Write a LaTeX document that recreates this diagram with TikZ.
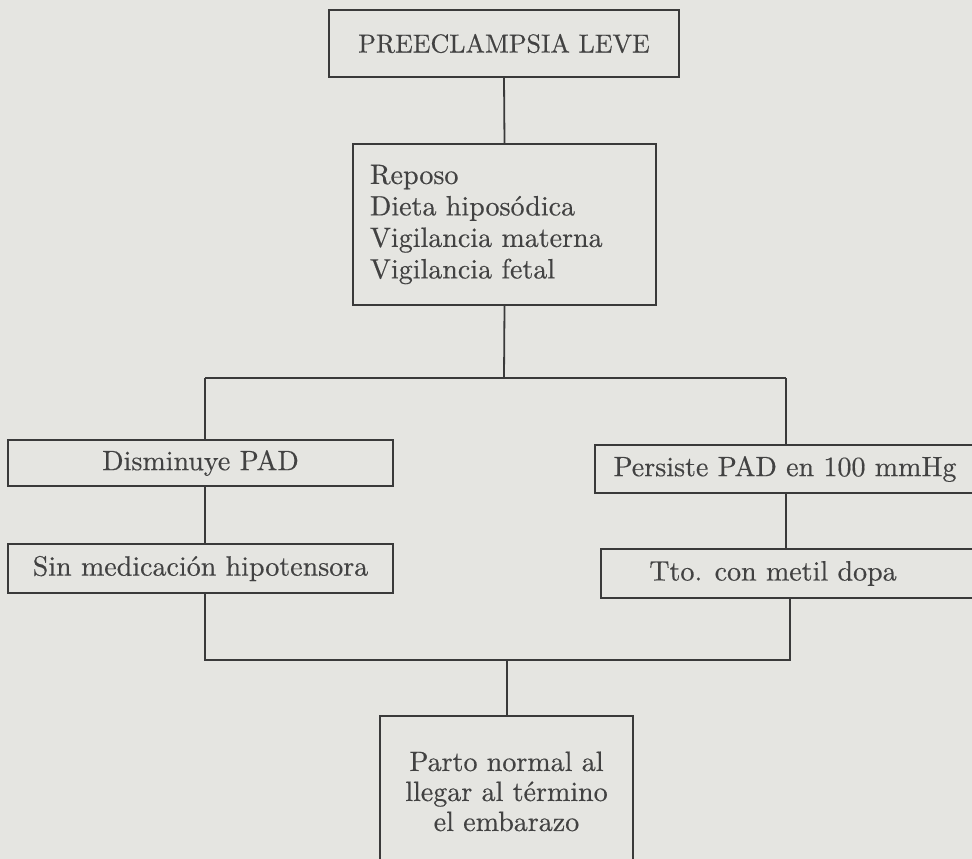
\documentclass[tikz,border=0pt]{standalone}
\usepackage{fontspec}
\setmainfont{lmroman10-regular}[Extension=.otf, FakeBold=0.4]
\definecolor{paper}{RGB}{229,229,225}
\definecolor{ink}{RGB}{58,58,58}
\definecolor{txt}{RGB}{66,66,66}
\tikzset{
  box/.style={draw=ink, line width=1.8pt, fill=paper, inner sep=0pt, text=txt,
    font=\fontsize{28}{31.5}\selectfont},
  conn/.style={draw=ink, line width=1.8pt},
}
\begin{document}
\begin{tikzpicture}[x=1pt,y=-1pt]
\fill[paper] (0,0) rectangle (972,859);
\useasboundingbox (0,0) rectangle (972,859);
% boxes
\node[box, minimum width=350pt, minimum height=67pt, font=\fontsize{26}{30}\selectfont] (top) at (504,43.5) {PREECLAMPSIA LEVE};
\node[box, minimum width=303pt, minimum height=161pt, align=left, text width=269pt, inner xsep=17pt] (mid) at (504.5,224.5)
  {Reposo\\Dieta hiposódica\\Vigilancia materna\\Vigilancia fetal};
\node[box, minimum width=385pt, minimum height=46pt] (dis) at (200.5,463) {Disminuye PAD};
\node[box, minimum width=380pt, minimum height=48pt] (per) at (785,469) {Persiste PAD en 100 mmHg};
\node[box, minimum width=385pt, minimum height=49pt] (sin) at (200.5,568.5) {Sin medicación hipotensora};
\node[box, minimum width=374pt, minimum height=49pt] (tto) at (788,573.5) {\hspace*{-30pt}Tto. con metil dopa};
\node[box, minimum width=253pt, minimum height=160pt, align=center, anchor=north, text depth=0pt] (bot) at (506.5,715) {};
\node[text=txt, font=\fontsize{28}{30}\selectfont, align=center, anchor=north] (bottxt) at (506.5,748)
  {Parto normal al\\llegar al término\\el embarazo};
% connectors
\coordinate (j1) at (504,378);
\coordinate (jl) at (205,378);
\coordinate (jr) at (786,378);
\coordinate (kl) at (205,660);
\coordinate (kr) at (790,660);
\coordinate (kc) at (507,660);
\draw[conn] (top.south) -- (mid.north);
\draw[conn] (mid.south) -- (j1);
\draw[conn] (jl) -- (jr);
\draw[conn] (jl) -- (jl |- dis.north);
\draw[conn] (jr) -- (jr |- per.north);
\draw[conn] (dis.south -| jl) -- (sin.north -| jl);
\draw[conn] (per.south -| jr) -- (tto.north -| jr);
\draw[conn] (sin.south -| kl) -- (kl) -- (kr) -- (tto.south -| kr);
\draw[conn] (kc) -- (bot.north -| kc);
\end{tikzpicture}
\end{document}
